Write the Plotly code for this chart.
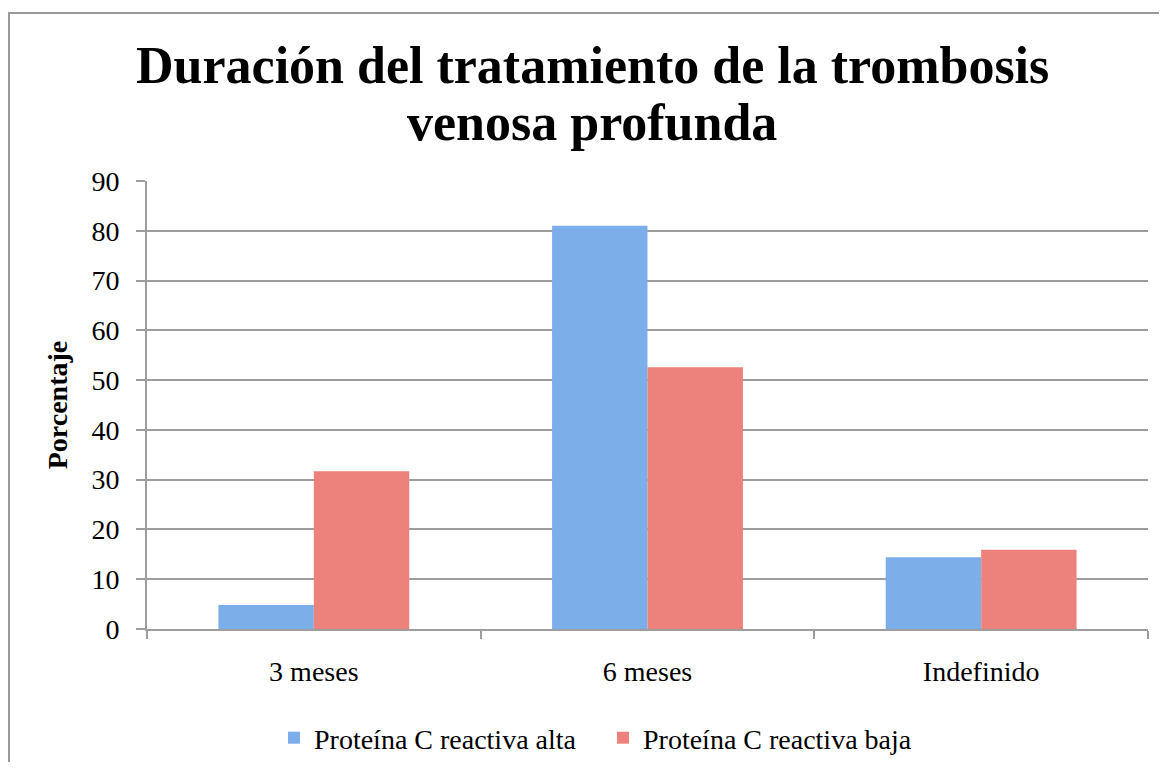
import plotly.graph_objects as go

categories = ["3 meses", "6 meses", "Indefinido"]
series_names = ["Proteína C reactiva alta", "Proteína C reactiva baja"]
alta = [4.8, 81.0, 14.4]
baja = [31.7, 52.6, 15.9]
y_ticks = [0, 10, 20, 30, 40, 50, 60, 70, 80, 90]
title_lines = ["Duración del tratamiento de la trombosis", "venosa profunda"]
y_title = "Porcentaje"

serif = "Liberation Serif, DejaVu Serif, serif"
# page body has an 8px margin: figure is sized so the page is 1167x770
W, H = 1151, 754
ml, mr, mt, mb = 139, 11, 173, 133
pw = W - ml - mr
ph = H - mt - mb

def px_x(x):
    return (x - ml) / pw

def px_y(y):
    return (H - mb - y) / ph

fig = go.Figure()
fig.add_trace(go.Bar(x=categories, y=alta, name=series_names[0],
                     marker=dict(color="#7cafea", line=dict(width=0))))
fig.add_trace(go.Bar(x=categories, y=baja, name=series_names[1],
                     marker=dict(color="#ec827b", line=dict(width=0))))

# outer chart border (top and left edges; the rest runs off the page)
border = dict(color="#9a9a9a", width=2)
fig.add_shape(type="line", xref="paper", yref="paper",
              x0=px_x(0), x1=px_x(W), y0=px_y(5), y1=px_y(5), line=border, layer="below")
fig.add_shape(type="line", xref="paper", yref="paper",
              x0=px_x(1), x1=px_x(1), y0=px_y(4), y1=px_y(H), line=border, layer="below")

# title (two lines)
for txt, ymid in zip(title_lines, [57, 115]):
    fig.add_annotation(text="<b>" + txt + "</b>", xref="paper", yref="paper",
                       x=px_x(584), y=px_y(ymid), xanchor="center", yanchor="middle",
                       showarrow=False, font=dict(family=serif, size=52, color="black"))

fig.update_layout(
    width=W, height=H,
    margin=dict(l=ml, r=mr, t=mt, b=mb, autoexpand=False),
    paper_bgcolor="white", plot_bgcolor="white",
    barmode="group", bargap=0.428, bargroupgap=0,
    font=dict(family=serif, size=28, color="black"),
    xaxis=dict(showgrid=False, showline=True, linecolor="#9d9d9d", linewidth=2,
               ticks="outside", tickson="boundaries", ticklen=8, tickcolor="#9d9d9d", tickwidth=2,
               tickfont=dict(family=serif, size=28), ticklabelstandoff=16, automargin=False),
    yaxis=dict(range=[0, 90], tickvals=y_ticks, showgrid=True, gridcolor="#9d9d9d", gridwidth=2,
               showline=True, linecolor="#9d9d9d", linewidth=2, zeroline=False,
               ticks="outside", ticklen=9, tickcolor="#9d9d9d", tickwidth=2,
               tickfont=dict(family=serif, size=28), ticklabelstandoff=11, automargin=False,
               title=dict(text="<b>" + y_title + "</b>", font=dict(family=serif, size=28), standoff=16)),
    legend=dict(orientation="h", x=px_x(266), xanchor="left", y=px_y(730), yanchor="middle",
                font=dict(family=serif, size=28), traceorder="normal",
                entrywidth=284, entrywidthmode="pixels"),
    showlegend=True,
)

fig.write_html("out.html")
